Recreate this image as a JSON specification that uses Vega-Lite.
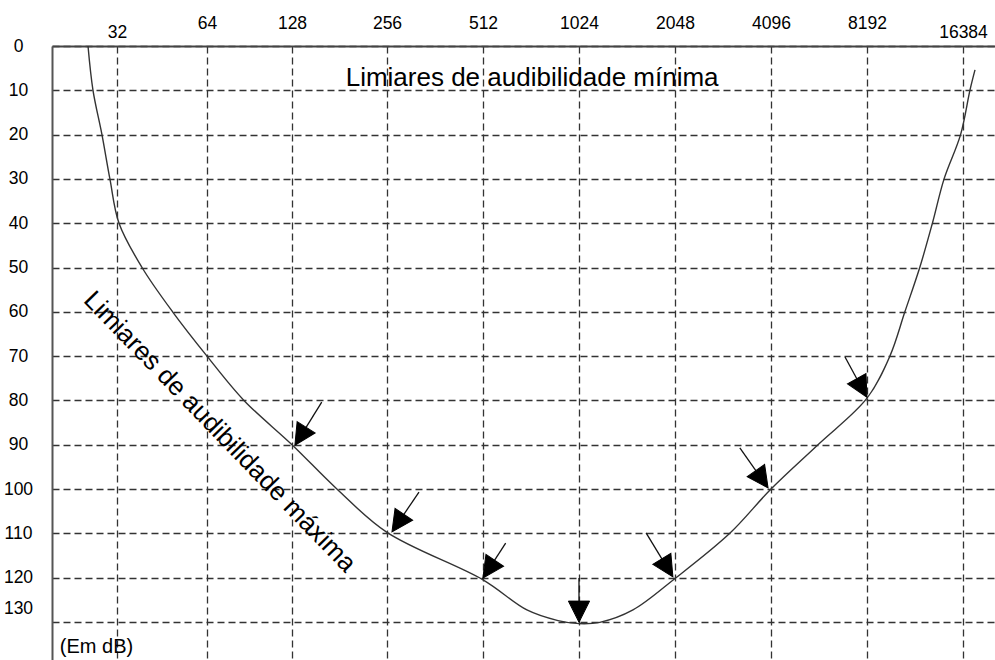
{
  "$schema": "https://vega.github.io/schema/vega-lite/v6.json",
  "width": 943,
  "height": 614,
  "autosize": "none",
  "padding": {"left": 52, "top": 46, "right": 0, "bottom": 0},
  "background": "white",
  "config": {
    "view": {"stroke": null},
    "font": "Liberation Sans"
  },
  "datasets": {
    "curve": [
      {"f": 25.6, "db": 0}, {"f": 26.6, "db": 10}, {"f": 28.5, "db": 20}, {"f": 30.3, "db": 30},
      {"f": 32.5, "db": 40}, {"f": 38.8, "db": 50},
      {"f": 49.1, "db": 60}, {"f": 64, "db": 70}, {"f": 86.5, "db": 80}, {"f": 128, "db": 90},
      {"f": 177.6, "db": 100}, {"f": 256, "db": 109.8}, {"f": 512, "db": 120.5},
      {"f": 703, "db": 127.3}, {"f": 880, "db": 129.7}, {"f": 1024, "db": 130.4}, {"f": 1190, "db": 130.1},
      {"f": 1512, "db": 127.3}, {"f": 2048, "db": 120.2}, {"f": 3042, "db": 110}, {"f": 4096, "db": 100},
      {"f": 5750, "db": 90}, {"f": 8192, "db": 79.5}, {"f": 9664, "db": 70}, {"f": 10769, "db": 60},
      {"f": 11990, "db": 50}, {"f": 13137, "db": 40}, {"f": 14293, "db": 30},
      {"f": 16100, "db": 20}, {"f": 17225, "db": 10}, {"f": 17867, "db": 5.4}
    ],
    "arrows": [
      {"f": 159, "db": 80.4, "f2": 136.2, "db2": 88.1, "angle": 32},
      {"f": 322.5, "db": 100.7, "f2": 277, "db2": 107.7, "angle": 34},
      {"f": 603, "db": 112.2, "f2": 534, "db2": 118.1, "angle": 34},
      {"f": 1024, "db": 120.1, "f2": 1024, "db2": 127.7, "angle": 0},
      {"f": 1662, "db": 109.9, "f2": 1938, "db2": 117.8, "angle": -31.5},
      {"f": 3271, "db": 90.7, "f2": 3838, "db2": 97.8, "angle": -35},
      {"f": 6990, "db": 70.2, "f2": 7892, "db2": 77.2, "angle": -29}
    ],
    "labels": [
      {"f": 730, "db": 7.2, "text": "Limiares de audibilidade mínima", "angle": 0},
      {"f": 71, "db": 87.1, "text": "Limiares de audibilidade máxima", "angle": 46}
    ],
    "unit": [
      {"f": 20.6, "db": 135.7, "text": "(Em dB)"}
    ]
  },
  "encoding": {
    "x": {
      "field": "f", "type": "quantitative",
      "scale": {"type": "log", "base": 2, "domain": [19.4, 32, 64, 128, 256, 20643], "range": [0, 65, 155, 240, 335, 943], "nice": false, "zero": false},
      "axis": {
        "orient": "top", "title": null,
        "values": [32, 64, 128, 256, 512, 1024, 2048, 4096, 8192, 16384],
        "format": "d", "ticks": false, "grid": true,
        "gridDash": [7, 4], "gridColor": "#333", "gridWidth": 1.3,
        "domain": true, "domainColor": "#444", "domainWidth": 2,
        "labelFont": "Liberation Sans", "labelFontSize": 17.5, "labelColor": "#000",
        "labelBaseline": "alphabetic",
        "labelPadding": {"condition": {"test": "datum.value == 32 || datum.value == 16384", "value": 9}, "value": 18},
        "labelFlush": false, "labelOverlap": false, "labelBound": false
      }
    },
    "y": {
      "field": "db", "type": "quantitative",
      "scale": {"domain": [0, 138.6], "reverse": true, "nice": false, "zero": false},
      "axis": {
        "orient": "left", "title": null,
        "values": [0, 10, 20, 30, 40, 50, 60, 70, 80, 90, 100, 110, 120, 130],
        "ticks": false, "grid": true,
        "gridDash": [7, 4], "gridColor": "#333", "gridWidth": 1.3,
        "domain": true, "domainColor": "#555", "domainWidth": 2,
        "labelFont": "Liberation Sans", "labelFontSize": 17.5, "labelColor": "#000",
        "labelAlign": "center", "labelPadding": 34, "labelBaseline": "middle",
        "labelOffset": {"condition": {"test": "datum.value == 130", "value": -13}, "value": 0},
        "labelFlush": false, "labelOverlap": false, "labelBound": false
      }
    }
  },
  "layer": [
    {
      "data": {"name": "curve"},
      "mark": {"type": "line", "color": "#333", "strokeWidth": 1.4, "interpolate": "catmull-rom"}
    },
    {
      "data": {"name": "arrows"},
      "mark": {"type": "rule", "color": "#111", "strokeWidth": 1.3},
      "encoding": {
        "x2": {"field": "f2"},
        "y2": {"field": "db2"}
      }
    },
    {
      "data": {"name": "arrows"},
      "mark": {"type": "point", "shape": "M-1,-1L1,-1L0,1Z", "filled": true, "fill": "#000", "stroke": "#000", "strokeWidth": 1, "size": 450, "opacity": 1, "fillOpacity": 1},
      "encoding": {
        "x": {"field": "f2", "type": "quantitative"},
        "y": {"field": "db2", "type": "quantitative"},
        "angle": {"field": "angle", "type": "quantitative", "scale": null}
      }
    },
    {
      "data": {"name": "labels"},
      "mark": {"type": "text", "font": "Liberation Sans", "fontSize": 26, "color": "#000", "align": "center", "baseline": "middle"},
      "encoding": {
        "text": {"field": "text"},
        "angle": {"field": "angle", "type": "quantitative", "scale": null}
      }
    },
    {
      "data": {"name": "unit"},
      "mark": {"type": "text", "font": "Liberation Sans", "fontSize": 20, "color": "#000", "align": "left", "baseline": "middle"},
      "encoding": {
        "text": {"field": "text"}
      }
    }
  ]
}
